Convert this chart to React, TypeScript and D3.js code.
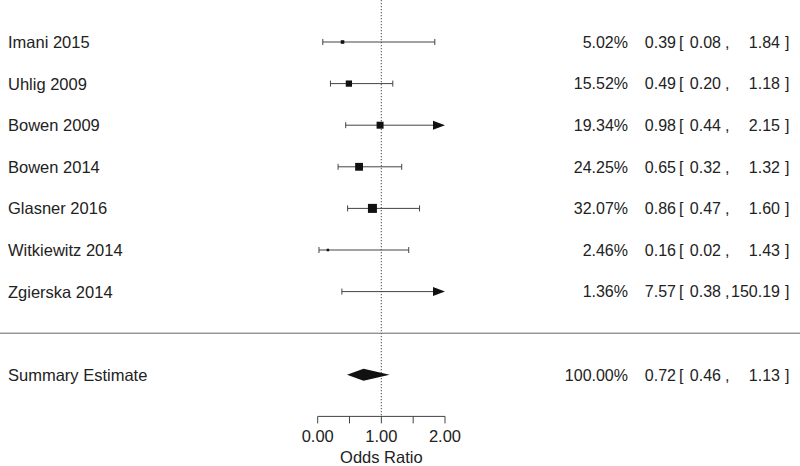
import React, { useEffect, useRef } from 'react';
import * as d3 from 'd3';

const studies = ['Imani 2015', 'Uhlig 2009', 'Bowen 2009', 'Bowen 2014', 'Glasner 2016', 'Witkiewitz 2014', 'Zgierska 2014'];
const estimates = [0.39, 0.49, 0.98, 0.65, 0.86, 0.16, 7.57];
const lowers = [0.08, 0.20, 0.44, 0.32, 0.47, 0.02, 0.38];
const uppers = [1.84, 1.18, 2.15, 1.32, 1.60, 1.43, 150.19];
const weights = [5.02, 15.52, 19.34, 24.25, 32.07, 2.46, 1.36];

const summaryLabel = 'Summary Estimate';
const summary = { est: 0.72, lo: 0.46, hi: 1.13, weight: 100 };

const xTicks = [0, 0.5, 1, 1.5, 2];
const xTickLabels = ['0.00', '', '1.00', '', '2.00'];
const xLabel = 'Odds Ratio';

function App() {
  const ref = useRef<SVGSVGElement>(null);

  useEffect(() => {
    const svg = d3.select(ref.current);
    svg.selectAll('*').remove();

    const width = 800, height = 466;
    const font = 'Liberation Sans, Arial, Helvetica, sans-serif';
    const fs = 16.5;
    const ink = '#222';

    const x = d3.scaleLinear().domain([0, 2]).range([317.7, 445]);
    // row index -> y, study rows 0..6, separator 7, summary 8, axis 9
    const y = d3.scaleLinear().domain([0, 1]).range([42, 83.6]);
    const size = d3.scaleSqrt().domain([0, 32.07]).range([0, 9]);

    const g = svg.append('g').attr('font-family', font).attr('font-size', fs).attr('fill', ink);

    const axisY = y(9);

    // reference line at 1
    g.append('line')
      .attr('x1', x(1)).attr('x2', x(1))
      .attr('y1', 0).attr('y2', axisY)
      .attr('stroke', '#666').attr('stroke-width', 1.2)
      .attr('stroke-dasharray', '1.2,1.8');

    // separator
    g.append('line')
      .attr('x1', 0).attr('x2', width)
      .attr('y1', y(7)).attr('y2', y(7))
      .attr('stroke', '#666').attr('stroke-width', 1);

    const [xmin, xmax] = x.domain();
    const cap = 3;

    studies.forEach((name, i) => {
      const cy = y(i);
      const lo = Math.max(lowers[i], xmin);
      const hi = Math.min(uppers[i], xmax);
      const clipped = uppers[i] > xmax;
      const x2 = clipped ? x(xmax) - 12 : x(hi);

      g.append('line')
        .attr('x1', x(lo)).attr('x2', x2)
        .attr('y1', cy).attr('y2', cy)
        .attr('stroke', '#444').attr('stroke-width', 1);

      g.append('line')
        .attr('x1', x(lo)).attr('x2', x(lo))
        .attr('y1', cy - cap).attr('y2', cy + cap)
        .attr('stroke', '#444').attr('stroke-width', 1);

      if (clipped) {
        g.append('path')
          .attr('d', `M${x(xmax) - 12},${cy - 4.5}L${x(xmax)},${cy}L${x(xmax) - 12},${cy + 4.5}Z`)
          .attr('fill', '#111');
      } else {
        g.append('line')
          .attr('x1', x(hi)).attr('x2', x(hi))
          .attr('y1', cy - cap).attr('y2', cy + cap)
          .attr('stroke', '#444').attr('stroke-width', 1);
      }

      if (estimates[i] <= xmax) {
        const s = size(weights[i]);
        g.append('rect')
          .attr('x', x(estimates[i]) - s / 2).attr('y', cy - s / 2)
          .attr('width', s).attr('height', s)
          .attr('fill', '#111');
      }

      g.append('text').attr('x', 8).attr('y', cy).attr('dy', '0.36em').text(name);
      rightCols(cy, weights[i], estimates[i], lowers[i], uppers[i]);
    });

    // summary
    const sy = y(8);
    g.append('path')
      .attr('d', `M${x(summary.lo)},${sy}L${x(summary.est)},${sy - 6}L${x(summary.hi)},${sy}L${x(summary.est)},${sy + 6}Z`)
      .attr('fill', '#111');
    g.append('text').attr('x', 8).attr('y', sy).attr('dy', '0.36em').text(summaryLabel);
    rightCols(sy, summary.weight, summary.est, summary.lo, summary.hi);

    function rightCols(cy: number, w: number, est: number, lo: number, hi: number) {
      const t = (xx: number, s: string, anchor = 'end') =>
        g.append('text').attr('x', xx).attr('y', cy).attr('dy', '0.36em')
          .attr('font-size', 16).attr('text-anchor', anchor).text(s);
      t(628, `${w.toFixed(2)}%`);
      t(676, est.toFixed(2));
      t(679, '[', 'start');
      t(721, lo.toFixed(2));
      t(725, ',', 'start');
      t(780, hi.toFixed(2));
      t(785, ']', 'start');
    }

    // x axis
    const axis = g.append('g');
    axis.append('line')
      .attr('x1', x(xmin)).attr('x2', x(xmax))
      .attr('y1', axisY).attr('y2', axisY)
      .attr('stroke', '#444');
    xTicks.forEach((v, i) => {
      axis.append('line')
        .attr('x1', x(v)).attr('x2', x(v))
        .attr('y1', axisY).attr('y2', axisY + 7)
        .attr('stroke', '#444');
      if (xTickLabels[i]) {
        axis.append('text').attr('x', x(v)).attr('y', axisY + 26)
          .attr('text-anchor', 'middle').text(xTickLabels[i]);
      }
    });
    g.append('text').attr('x', x(1)).attr('y', axisY + 47)
      .attr('text-anchor', 'middle').text(xLabel);

    svg.attr('width', width).attr('height', height);
  }, []);

  return <svg ref={ref} style={{ display: 'block', position: 'absolute', left: 0, top: 0 }}></svg>;
}

export default App;
